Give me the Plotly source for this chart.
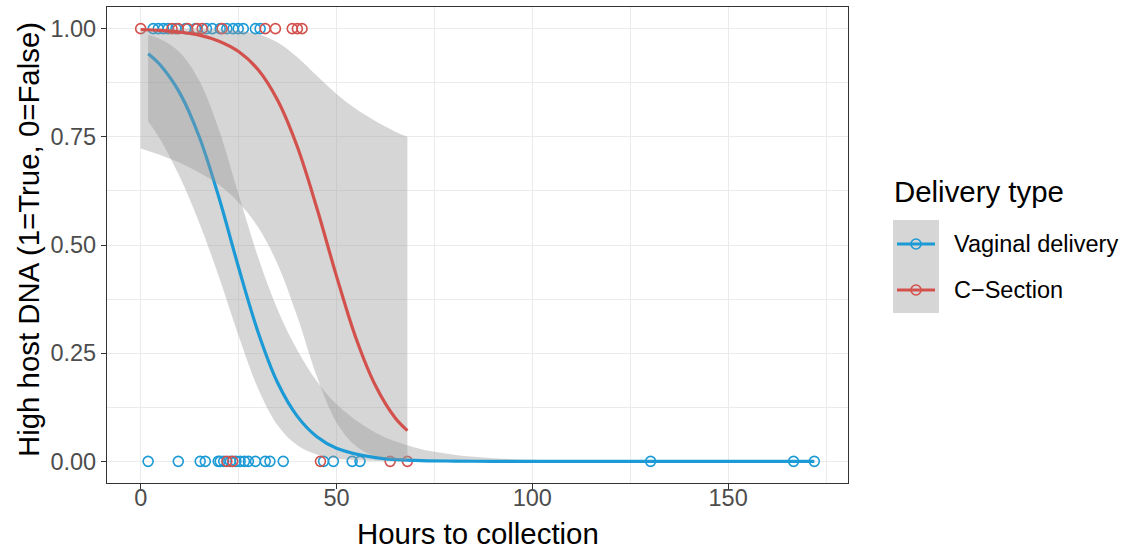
import plotly.graph_objects as go

# ---------------- data ----------------
# observed samples (hours to collection, outcome)
vag_hours_true = [3.2, 4.5, 5.8, 7.0, 9.0, 11.5, 14.0, 16.8, 18.3, 20.3, 22.0, 23.6, 24.9, 26.2, 29.3, 30.5]
vag_hours_false = [1.9, 9.6, 15.2, 16.5, 19.8, 20.3, 21.2, 22.9, 24.3, 25.4, 26.5, 27.5, 29.3, 31.8, 33.0,
                   36.4, 46.7, 49.2, 54.0, 56.0, 130.2, 166.7, 172.0]
cs_hours_true = [0.0, 8.0, 9.6, 12.0, 14.4, 15.7, 20.8, 31.8, 34.4, 38.7, 40.0, 41.2]
cs_hours_false = [22.0, 23.5, 45.9, 63.7, 68.1]

# fitted logistic curves with confidence band
vag_fit_x = [1.9, 5, 10, 15, 20, 25, 30, 35, 40, 45, 50, 60, 70, 80, 90, 100, 120, 140, 172]
vag_fit_y = [0.942, 0.916, 0.851, 0.749, 0.609, 0.448, 0.298, 0.181, 0.104, 0.057, 0.0305, 0.0085,
             0.0023, 0.0006, 0.0002, 0.0001, 0.0, 0.0, 0.0]
vag_lo = [0.786, 0.744, 0.657, 0.55, 0.426, 0.29, 0.168, 0.083, 0.037, 0.0157, 0.0065, 0.001,
          0.0001, 0.0, 0.0, 0.0, 0.0, 0.0, 0.0]
vag_hi = [0.986, 0.976, 0.945, 0.879, 0.766, 0.617, 0.471, 0.35, 0.257, 0.185, 0.132, 0.066,
          0.032, 0.0154, 0.0074, 0.0036, 0.0008, 0.0002, 0.0]

cs_fit_x = [0, 5, 10, 15, 20, 25, 30, 35, 40, 45, 50, 55, 60, 65, 68.1]
cs_fit_y = [0.998, 0.996, 0.992, 0.985, 0.971, 0.947, 0.905, 0.834, 0.727, 0.585, 0.428, 0.284,
            0.174, 0.10, 0.071]
cs_lo = [0.723, 0.708, 0.69, 0.667, 0.639, 0.598, 0.541, 0.455, 0.334, 0.196, 0.09, 0.035,
         0.012, 0.0039, 0.002]
cs_hi = [1.0, 1.0, 0.9998, 0.9995, 0.9985, 0.9954, 0.987, 0.968, 0.934, 0.891, 0.849, 0.814,
         0.786, 0.762, 0.75]

groups = ["Vaginal delivery", "C\u2212Section"]
x_ticks = [0, 50, 100, 150]
y_ticks = [0.0, 0.25, 0.5, 0.75, 1.0]

# ---------------- style ----------------
BLUE = "#1B9AD6"
RED = "#D3514C"
RIBBON = "rgba(153,153,153,0.4)"
FONT = "Liberation Sans, Arial, sans-serif"

W, H = 1136, 550
L, R, T, B = 107, 848, 7, 483  # panel pixel box


def px(x):
    return (x - L) / (R - L)


def py(y):
    return (B - y) / (B - T)


fig = go.Figure()

# points
fig.add_trace(go.Scatter(
    x=vag_hours_true + vag_hours_false,
    y=[1] * len(vag_hours_true) + [0] * len(vag_hours_false),
    mode="markers", showlegend=False,
    marker=dict(symbol="circle-open", size=10, color=BLUE, line=dict(width=1.6, color=BLUE)),
))
fig.add_trace(go.Scatter(
    x=cs_hours_true + cs_hours_false,
    y=[1] * len(cs_hours_true) + [0] * len(cs_hours_false),
    mode="markers", showlegend=False,
    marker=dict(symbol="circle-open", size=10, color=RED, line=dict(width=1.6, color=RED)),
))


def add_smooth(xs, fit, lo, hi, color):
    fig.add_trace(go.Scatter(x=xs, y=lo, mode="lines", line=dict(width=0, shape="spline"),
                             showlegend=False, hoverinfo="skip"))
    fig.add_trace(go.Scatter(x=xs, y=hi, mode="lines", line=dict(width=0, shape="spline"),
                             fill="tonexty", fillcolor=RIBBON, showlegend=False, hoverinfo="skip"))
    fig.add_trace(go.Scatter(x=xs, y=fit, mode="lines", line=dict(width=3.2, color=color, shape="spline"),
                             showlegend=False))


add_smooth(vag_fit_x, vag_fit_y, vag_lo, vag_hi, BLUE)
add_smooth(cs_fit_x, cs_fit_y, cs_lo, cs_hi, RED)

GRID = "#EBEBEB"
fig.update_xaxes(
    range=[-8.6, 180.6], tickvals=x_ticks, ticktext=[str(v) for v in x_ticks],
    showgrid=True, gridcolor=GRID, gridwidth=1.3,
    minor=dict(dtick=25, tick0=0, showgrid=True, gridcolor=GRID, gridwidth=0.7),
    showline=True, mirror=True, linecolor="#333333", linewidth=1.3,
    ticks="outside", ticklen=5, tickcolor="#333333", tickwidth=1.1,
    tickfont=dict(family=FONT, size=23.5, color="#4D4D4D"),
    ticklabelstandoff=-11,
    zeroline=False, automargin=False,
)
fig.update_yaxes(
    range=[-0.05, 1.05], tickvals=y_ticks, ticktext=["%.2f" % v for v in y_ticks],
    showgrid=True, gridcolor=GRID, gridwidth=1.3,
    minor=dict(dtick=0.125, tick0=0, showgrid=True, gridcolor=GRID, gridwidth=0.7),
    showline=True, mirror=True, linecolor="#333333", linewidth=1.3,
    ticks="outside", ticklen=5, tickcolor="#333333", tickwidth=1.1,
    tickfont=dict(family=FONT, size=23.5, color="#4D4D4D"),
    zeroline=False, automargin=False,
)

shapes = []
annotations = []
# axis titles
annotations.append(dict(text="Hours to collection", xref="paper", yref="paper", x=px(477.5), y=py(533),
                        xanchor="center", yanchor="middle", showarrow=False,
                        font=dict(family=FONT, size=29.4, color="#000000")))
annotations.append(dict(text="High host DNA (1=True, 0=False)", xref="paper", yref="paper", x=px(28),
                        y=py(240), xanchor="center", yanchor="middle", showarrow=False, textangle=-90,
                        font=dict(family=FONT, size=29.4, color="#000000")))

# manual legend (ggplot style)
annotations.append(dict(text="Delivery type", xref="paper", yref="paper", x=px(892), y=py(192),
                        xanchor="left", yanchor="middle", showarrow=False,
                        font=dict(family=FONT, size=29.4, color="#000000")))
shapes.append(dict(type="rect", xref="paper", yref="paper", x0=px(893), x1=px(939), y0=py(220), y1=py(313),
                   fillcolor="#D6D6D6", line=dict(width=0), layer="above"))
for i, (name, col) in enumerate(zip(groups, [BLUE, RED])):
    yc = 244 + 46 * i
    shapes.append(dict(type="line", xref="paper", yref="paper", x0=px(897), x1=px(935), y0=py(yc), y1=py(yc),
                       line=dict(color=col, width=3.2), layer="above"))
    shapes.append(dict(type="circle", xref="paper", yref="paper", x0=px(911), x1=px(921),
                       y0=py(yc + 5), y1=py(yc - 5), line=dict(color=col, width=1.6), layer="above"))
    annotations.append(dict(text=name, xref="paper", yref="paper", x=px(952), y=py(yc),
                            xanchor="left", yanchor="middle", showarrow=False,
                            font=dict(family=FONT, size=23.5, color="#000000")))

fig.update_layout(
    width=W, height=H,
    margin=dict(l=L, r=W - R, t=T, b=H - B, autoexpand=False),
    paper_bgcolor="white", plot_bgcolor="white",
    showlegend=False,
    shapes=shapes, annotations=annotations,
)

fig.write_html("out.html", config={"displayModeBar": False},
               post_script="document.body.style.margin='0';document.body.style.overflow='hidden';")
